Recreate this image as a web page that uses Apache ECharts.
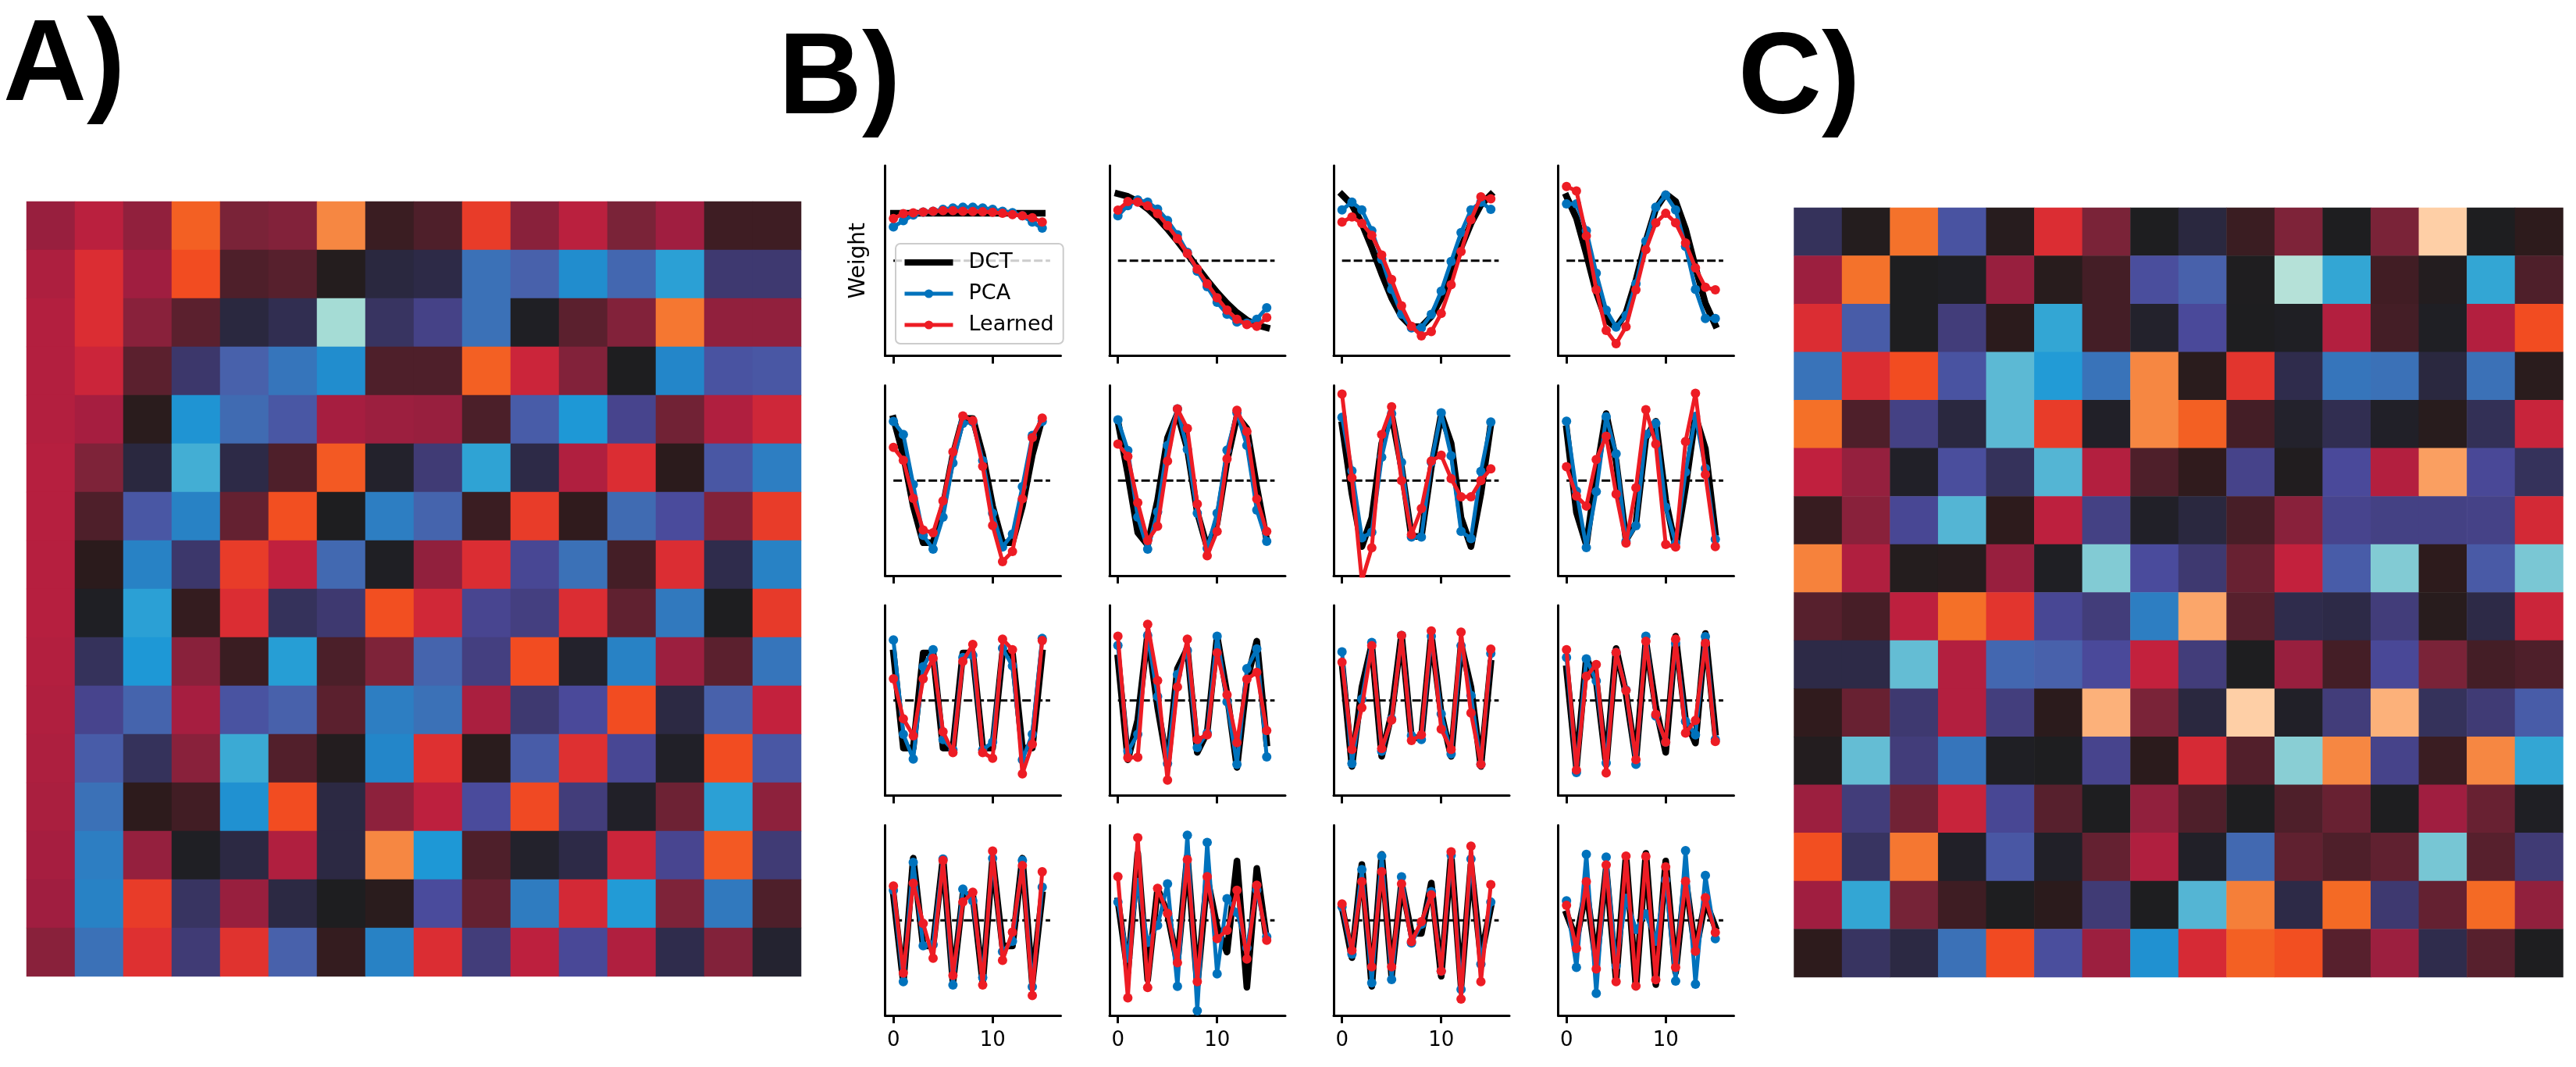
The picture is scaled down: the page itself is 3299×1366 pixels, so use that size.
<!DOCTYPE html>
<html><head><meta charset="utf-8">
<style>html,body{margin:0;padding:0;background:#fff}#c{width:3299px;height:1366px}</style>
<script src="https://cdn.jsdelivr.net/npm/echarts@6/dist/echarts.min.js"></script>
</head><body><div id="c"></div>
<script>
const panelLabels = ['A)','B)','C)'];
const seriesNames = ['DCT','PCA','Learned'];
const xIndex = [0,1,2,3,4,5,6,7,8,9,10,11,12,13,14,15];
const xTickLabels = [0,10];
const cellIndex = xIndex;

const colorRamp = ['#c0e4da','#a5dcd5','#82cbd4','#5cb9d4','#33a6d4','#1e98d6','#2386c9','#3b71b7','#4861ab','#4a499a','#423d7a','#2d2a47','#1e1e20','#2d1b1c','#4e1f2a','#7a2338','#a01e40','#c0203e','#db2d33','#e83c29','#f24c21','#f46d25','#f68742','#fba96f','#fecfa6'];

const heatA = [
[1.9,2.4,1.8,4.3,1.5,1.6,5,.7,1,3.5,1.7,2.4,1.5,2,.75,.75],
[2.2,3,2,4,1,1.1,.2,-.4,-.5,-2.5,-2,-3.2,-2.2,-3.8,-.9,-.9],
[2.3,3,1.7,1.15,-.4,-.6,-5.5,-.75,-1.2,-2.5,-.05,1.15,1.6,4.7,1.8,1.8],
[2.3,2.7,1.15,-.85,-2,-2.6,-3.2,1,1,4.3,2.7,1.6,0,-3,-1.7,-1.8],
[2.3,2.1,.4,-3.4,-2.3,-1.8,2.1,1.95,1.9,.95,-1.9,-3.5,-1.3,1.4,2.25,2.75],
[2.35,1.55,-.4,-4.2,-.5,1,4.2,-.15,-.95,-3.9,-.5,2.25,3,.45,-1.8,-2.8],
[2.35,1,-1.8,-2.9,1.25,4.05,0,-2.8,-2.1,.7,3.5,.55,-2.3,-1.55,1.6,3.5],
[2.35,.45,-2.9,-.85,3.5,2.5,-2.25,-.05,1.8,3,-1.4,-2.5,.85,3,-.55,-2.9],
[2.35,-.05,-3.8,.6,3,-.7,-.9,4.05,2.8,-1.35,-1.1,3,1.2,-2.7,0,3.45],
[2.3,-.7,-3.5,1.7,.7,-3.7,.95,1.55,-2.1,-1.1,4,-.15,-2.9,1.95,1.15,-2.6],
[2.25,-1.3,-2.1,2.1,-1.7,-2,1.15,-2.8,-2.5,2.15,-.9,-1.5,4,-.45,-2,2.55],
[2.2,-1.9,-.7,1.7,-4.1,1.05,.15,-3,3.1,.4,-1.9,3.1,-1.4,-.1,4,-1.8],
[2.15,-2.5,.5,.8,-3.3,4,-.45,1.75,2.45,-1.55,3.9,-1,-.1,1.35,-3.8,1.75],
[2.1,-2.8,1.85,-.05,-.45,2.25,-.45,5,-3.5,1,-.15,-.5,2.7,-1.35,4.2,-.95],
[2,-2.9,3.5,-.75,1.9,-.45,0,.4,-1.55,1.25,-2.75,2.85,-3.6,1.55,-2.7,1],
[1.7,-2.5,3.1,-.95,3.2,-2,.6,-2.9,3,-1,2.45,-1.45,2.25,-.55,1.6,-.2]
];

const heatC = [
[-.7,.2,4.6,-1.7,.3,3,1.5,0,-.4,.7,1.55,0,1.5,6,0,.5],
[1.95,4.6,0,-.05,1.9,.35,.85,-1.6,-2,.05,-5.8,-4,.8,.15,-4,1],
[3,-1.9,0,-1,.45,-4,.85,-.15,-1.5,0,-.05,2.3,.85,-.05,2.3,4],
[-2.55,3,4,-1.7,-4.5,-3.6,-2.55,5,.4,3.25,-.55,-2.6,-2.5,-.4,-2.5,.4],
[4.55,1,-1.15,-.4,-4.5,3.5,-.1,5,4.3,.85,-.15,-.6,-.1,.35,-.65,2.65],
[2.5,1.85,-.1,-1.6,-.7,-4.4,2.3,1,.55,-1.25,.1,-1.5,2.3,5.35,-1.45,-.7],
[.65,1.7,-1.4,-4.4,.5,2.45,-1.15,-.1,-.4,.9,1.7,-1.3,-1.15,-1.15,-1.2,2.85],
[4.9,2.25,.2,.3,1.9,-.05,-5,-1.55,-.9,1.3,2.55,-1.9,-5,.5,-1.85,-4.9],
[1.1,.9,2.45,4.55,3.25,-1.4,-1,-2.8,5.45,1.1,-.55,-.5,-1,.35,-.5,2.7],
[-.5,-.5,-4.6,2.3,-2.2,-2,-1.5,2.55,-1,0,1.9,.85,-1.45,1.5,.85,1],
[.55,1.3,-.9,2.3,-1.05,.45,5.6,1.5,-.4,6,-.1,-1,5.6,-.7,-.95,-1.9],
[.15,-4.6,-1,-2.6,-.05,0,-1.3,.45,2.9,1.05,-5.1,5,-1.25,.7,5,-4],
[1.95,-1,1.4,2.65,-1.4,1.1,0,1.8,1,0,1,1.3,0,2,1.3,-.05],
[4.05,-.75,4.7,-.1,-1.8,-.1,1.25,2.25,-.1,-2.25,1.2,1,1.2,-4.85,1.1,-.95],
[2,-4,1.45,.75,0,.45,-.95,0,-4.4,4.85,-.5,4.45,-.9,1.25,4.45,1.8],
[.5,-.75,-.45,-2.5,3.95,-1.6,1.95,-3.3,2.9,4.3,4.05,1.1,1.95,-.55,1.1,0]
];

const dct = [
[.25,.25,.25,.25,.25,.25,.25,.25,.25,.25,.25,.25,.25,.25,.25,.25],
[.352,.338,.312,.273,.224,.167,.103,.035,-.035,-.103,-.167,-.224,-.273,-.312,-.338,-.352],
[.347,.294,.196,.069,-.069,-.196,-.294,-.347,-.347,-.294,-.196,-.069,.069,.196,.294,.347],
[.338,.224,.035,-.167,-.312,-.352,-.273,-.103,.103,.273,.352,.312,.167,-.035,-.224,-.338],
[.327,.135,-.135,-.327,-.327,-.135,.135,.327,.327,.135,-.135,-.327,-.327,-.135,.135,.327],
[.312,.035,-.273,-.338,-.103,.224,.352,.167,-.167,-.352,-.224,.103,.338,.273,-.035,-.312],
[.294,-.069,-.347,-.196,.196,.347,.069,-.294,-.294,.069,.347,.196,-.196,-.347,-.069,.294],
[.273,-.167,-.338,.035,.352,.103,-.312,-.224,.224,.312,-.103,-.352,-.035,.338,.167,-.273],
[.25,-.25,-.25,.25,.25,-.25,-.25,.25,.25,-.25,-.25,.25,.25,-.25,-.25,.25],
[.224,-.312,-.103,.352,-.035,-.338,.167,.273,-.273,-.167,.338,.035,-.352,.103,.312,-.224],
[.196,-.347,.069,.294,-.294,-.069,.347,-.196,-.196,.347,-.069,-.294,.294,.069,-.347,.196],
[.167,-.352,.224,.103,-.338,.273,.035,-.312,.312,-.035,-.273,.338,-.103,-.224,.352,-.167],
[.135,-.327,.327,-.135,-.135,.327,-.327,.135,.135,-.327,.327,-.135,-.135,.327,-.327,.135],
[.103,-.273,.352,-.312,.167,.035,-.224,.338,-.338,.224,-.035,-.167,.312,-.352,.273,-.103],
[.069,-.196,.294,-.347,.347,-.294,.196,-.069,-.069,.196,-.294,.347,-.347,.294,-.196,.069],
[.035,-.103,.167,-.224,.273,-.312,.338,-.352,.352,-.338,.312,-.273,.224,-.167,.103,-.035]
];

const pca = [
[.178,.21,.24,.256,.26,.27,.277,.281,.281,.277,.27,.26,.253,.236,.203,.171],
[.236,.29,.319,.308,.271,.212,.137,.044,-.055,-.137,-.219,-.281,-.322,-.329,-.308,-.247],
[.267,.308,.267,.158,.007,-.151,-.281,-.353,-.353,-.282,-.16,-.004,.148,.267,.308,.27],
[.299,.299,.158,-.066,-.26,-.349,-.288,-.121,.103,.281,.345,.267,.075,-.151,-.304,-.304],
[.311,.242,-.021,-.288,-.36,-.192,.092,.301,.308,.105,-.171,-.349,-.281,-.032,.237,.311],
[.319,.158,-.192,-.36,-.164,.185,.377,.164,-.171,-.356,-.171,.16,.356,.185,-.155,-.319],
[.333,.051,-.301,-.271,.123,.352,.096,-.297,-.297,.096,.356,.13,-.267,-.305,.048,.308],
[.312,-.055,-.352,-.058,.336,.141,-.319,-.237,.242,.301,-.14,-.329,.045,.338,.064,-.308],
[.318,-.178,-.308,.178,.267,-.205,-.26,.226,.237,-.26,-.219,.274,.182,-.312,-.178,.326],
[.29,-.267,-.178,.342,.021,-.332,.137,.263,-.247,-.171,.338,-.007,-.336,.167,.271,-.297],
[.256,-.332,.007,.305,-.267,-.096,.342,-.185,-.205,.338,-.071,-.281,.288,.027,-.336,.247],
[.226,-.379,.219,.103,-.329,.253,.055,-.336,.338,-.082,-.219,.301,-.11,-.181,.336,-.205],
[.158,-.322,.305,-.133,-.127,.322,-.34,.164,.103,-.301,.326,-.164,-.11,.315,-.349,.175],
[.096,-.199,.199,-.116,-.027,.192,-.347,.448,-.475,.41,-.281,.114,.041,-.144,.16,-.086],
[.071,-.178,.267,-.329,.338,-.311,.229,-.119,-.021,.151,-.267,.342,-.363,.322,-.23,.096],
[.103,-.247,.347,-.384,.333,-.24,.116,-.048,.034,-.11,.212,-.319,.367,-.336,.236,-.097]
];

const learned = [
[.222,.247,.252,.256,.26,.263,.263,.26,.259,.258,.255,.249,.242,.236,.226,.203],
[.266,.311,.308,.288,.247,.185,.116,.038,-.044,-.121,-.195,-.26,-.308,-.336,-.345,-.299],
[.203,.23,.196,.133,.03,-.099,-.237,-.345,-.395,-.373,-.277,-.126,.048,.216,.336,.325],
[.39,.367,.13,-.153,-.367,-.436,-.347,-.153,.058,.199,.249,.199,.093,-.038,-.14,-.153],
[.175,.107,-.093,-.26,-.274,-.107,.151,.34,.315,.075,-.236,-.426,-.373,-.096,.226,.329],
[.192,.127,-.116,-.315,-.24,.103,.377,.274,-.123,-.395,-.267,.114,.37,.258,-.097,-.267],
[.455,.014,-.527,-.353,.242,.388,0,-.284,-.147,.103,.133,.01,-.085,-.085,0,.062],
[.073,-.081,-.134,.111,.233,-.071,-.329,-.038,.373,.192,-.336,-.349,.205,.459,.032,-.347],
[.114,-.096,-.186,.114,.222,-.164,-.274,.205,.295,-.274,-.304,.322,.267,-.386,-.23,.315],
[.338,-.301,-.299,.4,.105,-.419,.071,.322,-.205,-.181,.251,.03,-.222,.112,.148,-.158],
[.201,-.258,-.038,.288,-.253,-.103,.342,-.21,-.181,.366,-.151,-.258,.359,-.066,-.336,.27],
[.267,-.366,.127,.189,-.381,.253,.052,-.311,.311,-.073,-.219,.322,-.171,-.105,.301,-.216],
[.181,-.277,.195,-.016,-.199,.315,-.29,.096,.148,-.34,.364,-.21,-.062,.288,-.395,.256],
[.23,-.408,.434,-.353,.168,.037,-.223,.319,-.322,.23,-.096,-.052,.158,-.203,.185,-.105],
[.086,-.158,.203,-.244,.256,-.244,.192,-.112,-.007,.134,-.267,.36,-.414,.39,-.322,.188],
[.079,-.148,.203,-.256,.292,-.322,.338,-.345,.336,-.312,.281,-.247,.205,-.162,.119,-.064]
];

const zeroLine = [[0,0],[15.8,0]];

const chart = echarts.init(document.getElementById('c'), null, {renderer:'canvas', width:3299, height:1366});
const grids=[], xAxes=[], yAxes=[], series=[];
const FONT='DejaVu Sans';

function heat(matrix, left, top, w, h){
  const gi=grids.length;
  grids.push({left,top,width:w,height:h});
  xAxes.push({gridIndex:gi,type:'category',data:cellIndex.map(String),show:false});
  yAxes.push({gridIndex:gi,type:'category',data:cellIndex.map(String),inverse:true,show:false});
  const data=[];
  matrix.forEach((row,r)=>row.forEach((v,c)=>data.push([c,r,v])));
  series.push({type:'heatmap',xAxisIndex:gi,yAxisIndex:gi,data,silent:true,itemStyle:{borderWidth:0}});
}
heat(heatA,34,258,992,992);
heat(heatC,2297.5,266,985,985);

const colLeft=[1133.5,1421,1708,1995.5], rowTop=[212,493.5,775,1056.5];
const PW=225, PH=243.5;
for(let i=0;i<16;i++){
  const r=Math.floor(i/4), c=i%4, gi=grids.length;
  grids.push({left:colLeft[c],top:rowTop[r],width:PW,height:PH});
  xAxes.push({gridIndex:gi,type:'value',min:-0.84,max:16.87,splitLine:{show:false},
    axisLine:{onZero:false,lineStyle:{color:'#000',width:3}},
    axisTick:{show:true,length:10,lineStyle:{color:'#000',width:3},customValues:xTickLabels},
    axisLabel:{show:r===3,customValues:xTickLabels,color:'#000',fontFamily:FONT,fontSize:26,margin:19}});
  const y={gridIndex:gi,type:'value',min:-0.5,max:0.5,splitLine:{show:false},
    axisLine:{show:true,onZero:false,lineStyle:{color:'#000',width:3}},axisTick:{show:false},axisLabel:{show:false}};
  if(i===0){Object.assign(y,{name:'Weight',nameLocation:'middle',nameRotate:90,nameGap:20,nameTextStyle:{color:'#000',fontFamily:FONT,fontSize:28}});}
  yAxes.push(y);
  const base={xAxisIndex:gi,yAxisIndex:gi,silent:true,type:'line',clip:true};
  series.push({...base,name:'zero',data:zeroLine,showSymbol:false,symbol:'none',z:1,lineStyle:{color:'#000',width:3,type:[11,4]}});
  series.push({...base,name:seriesNames[0],data:xIndex.map(n=>[n,dct[i][n]]),showSymbol:false,symbol:'none',z:2,lineStyle:{color:'#000',width:8.5,cap:'square',join:'round'},itemStyle:{color:'#000'}});
  series.push({...base,name:seriesNames[1],data:xIndex.map(n=>[n,pca[i][n]]),symbol:'circle',symbolSize:12,showAllSymbol:true,z:3,lineStyle:{color:'#0072bc',width:5,join:'round'},itemStyle:{color:'#0072bc'}});
  series.push({...base,name:seriesNames[2],data:xIndex.map(n=>[n,learned[i][n]]),symbol:'circle',symbolSize:12,showAllSymbol:true,z:4,lineStyle:{color:'#ed1c24',width:5,join:'round'},itemStyle:{color:'#ed1c24'}});
}

const titleStyle={fontFamily:'Liberation Sans',fontWeight:'bold',fontSize:148,color:'#000'};
chart.setOption({
  animation:false,
  backgroundColor:'#fff',
  title:[
    {text:panelLabels[0],left:4,top:13,padding:0,textStyle:titleStyle},
    {text:panelLabels[1],left:997,top:30,padding:0,textStyle:titleStyle},
    {text:panelLabels[2],left:2226,top:30,padding:0,textStyle:titleStyle}
  ],
  grid:grids,xAxis:xAxes,yAxis:yAxes,series,
  visualMap:{type:'continuous',show:false,min:-6,max:6,dimension:2,seriesIndex:[0,1],inRange:{color:colorRamp}},
  legend:{data:[{name:seriesNames[0],icon:'path://M0 0H62V8H0Z',itemStyle:{color:'#000'}},
      {name:seriesNames[1],lineStyle:{width:5,color:'#0072bc'}},
      {name:seriesNames[2],lineStyle:{width:5,color:'#ed1c24'}}],
    orient:'vertical',left:1147,top:312,selectedMode:false,itemWidth:62,itemHeight:14,itemGap:10,align:'left',symbolKeepAspect:true,
    padding:[9,12,9,9],backgroundColor:'rgba(255,255,255,0.8)',borderColor:'#ccc',borderWidth:2,borderRadius:6,
    textStyle:{color:'#000',fontFamily:FONT,fontSize:27,lineHeight:30,padding:[0,0,0,15]}}
});
</script></body></html>
